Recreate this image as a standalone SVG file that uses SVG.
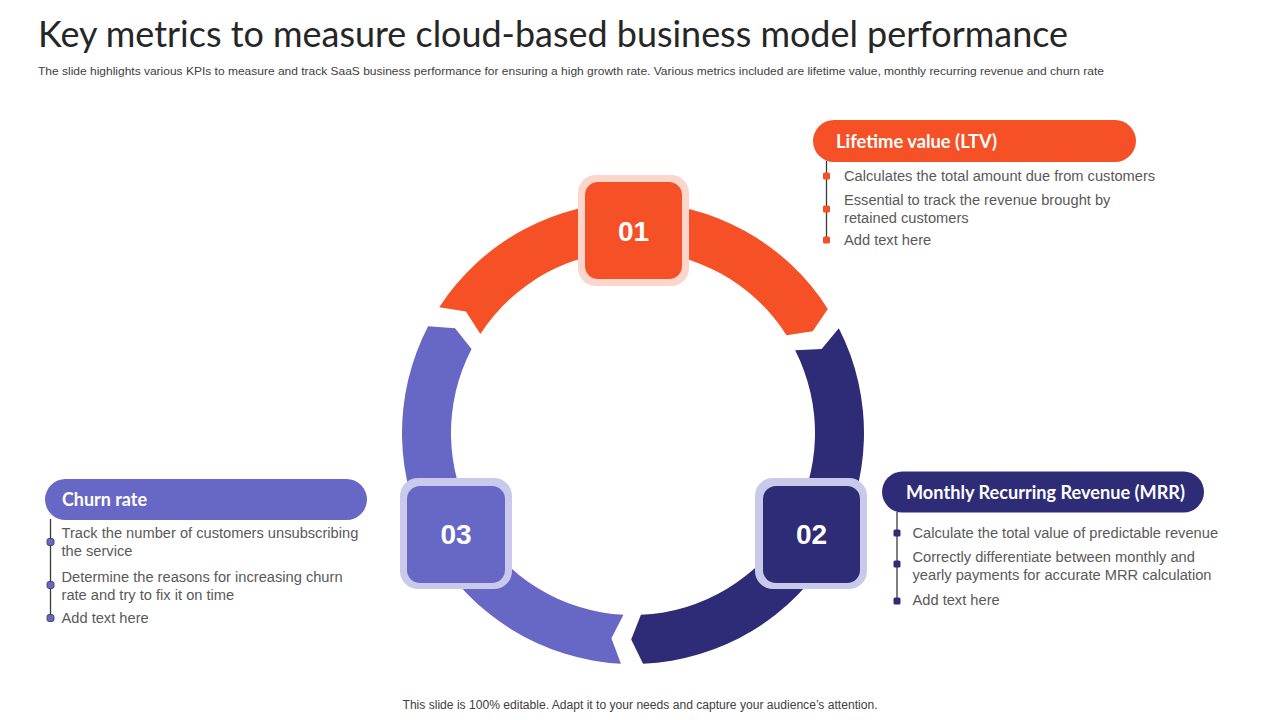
<svg xmlns="http://www.w3.org/2000/svg" width="1280" height="720" viewBox="0 0 1280 720">
<style>
.title{font-family:Lato,"Open Sans",sans-serif;font-size:36px;fill:#262626}
.sub{font-family:"Liberation Sans",Arial,sans-serif;font-size:10.7px;fill:#404040}
.foot{font-family:"Liberation Sans",Arial,sans-serif;font-size:12px;fill:#404040}
.body{font-family:"Liberation Sans",Arial,sans-serif;font-size:14.67px;fill:#595959}
.pill{font-family:Lato,"Open Sans",sans-serif;font-size:18px;font-weight:bold;fill:#ffffff}
.num{font-family:"Liberation Sans",Arial,sans-serif;font-size:28px;font-weight:bold;fill:#ffffff;text-anchor:middle}
.vline{stroke:#3a3a3a;stroke-width:1.3;fill:none}
.o{fill:#F55026}
.n{fill:#2E2B77}
.p{fill:#6768C5}
.ho{fill:#FCD6CC}
.hp{fill:#C9C9EC}
</style>
<rect width="1280" height="720" fill="#ffffff"/>
<text class="title" x="38" y="47" textLength="1030" lengthAdjust="spacingAndGlyphs">Key metrics to measure cloud-based business model performance</text>
<text class="sub" x="38" y="75" textLength="1066" lengthAdjust="spacingAndGlyphs">The slide highlights various KPIs to measure and track SaaS business performance for ensuring a high growth rate. Various metrics included are lifetime value, monthly recurring revenue and churn rate</text>

<g id="ring">
<path id="seg-orange" class="o" d="M439.27,307.19 A231,231 0 0 1 827.82,308.88 L812.73,331.32 L786.50,335.21 A182,182 0 0 0 480.36,333.88 L465.94,311.62 Z"/>
<path id="seg-navy" class="n" d="M838.82,328.13 A231,231 0 0 1 643.08,663.78 L631.20,639.49 L640.94,614.83 A182,182 0 0 0 795.16,350.37 L821.65,349.01 Z"/>
<path id="seg-purple" class="p" d="M620.91,663.68 A231,231 0 0 1 428.10,326.34 L455.07,328.19 L471.56,348.96 A182,182 0 0 0 623.47,614.75 L611.41,638.37 Z"/>
</g>

<g id="node-01">
<rect class="ho" x="578" y="175" width="111" height="111" rx="18"/>
<rect class="o" x="585" y="182" width="97" height="97" rx="13"/>
<text class="num" x="633.5" y="241">01</text>
</g>
<g id="node-02">
<rect class="hp" x="755" y="478" width="112" height="111" rx="18"/>
<rect class="n" x="763" y="486" width="97" height="97" rx="13"/>
<text class="num" x="811.5" y="544">02</text>
</g>
<g id="node-03">
<rect class="hp" x="400" y="478" width="112" height="111" rx="18"/>
<rect class="p" x="407" y="486" width="98" height="97" rx="13"/>
<text class="num" x="456" y="544">03</text>
</g>

<g id="ltv">
<rect class="o" x="813" y="120" width="323" height="42" rx="21"/>
<text class="pill" x="836" y="148" textLength="161" lengthAdjust="spacingAndGlyphs">Lifetime value (LTV)</text>
<line class="vline" x1="826.5" y1="161" x2="826.5" y2="240"/>
<rect class="o" x="823" y="172.5" width="7" height="7" rx="1.5"/>
<rect class="o" x="823" y="205.5" width="7" height="7" rx="1.5"/>
<rect class="o" x="823" y="236.5" width="7" height="7" rx="1.5"/>
<text class="body" x="844" y="181">Calculates the total amount due from customers</text>
<text class="body" x="844" y="205">Essential to track the revenue brought by</text>
<text class="body" x="844" y="223">retained customers</text>
<text class="body" x="844" y="245">Add text here</text>
</g>

<g id="mrr">
<rect class="n" x="882" y="471.5" width="322" height="41" rx="20.5"/>
<text class="pill" x="906" y="499" textLength="279" lengthAdjust="spacingAndGlyphs">Monthly Recurring Revenue (MRR)</text>
<line class="vline" x1="897" y1="512" x2="897" y2="601"/>
<rect class="n" x="893.5" y="529.5" width="7" height="7" rx="1.5"/>
<rect class="n" x="893.5" y="560.5" width="7" height="7" rx="1.5"/>
<rect class="n" x="893.5" y="597.5" width="7" height="7" rx="1.5"/>
<text class="body" x="912.5" y="538">Calculate the total value of predictable revenue</text>
<text class="body" x="912.5" y="562">Correctly differentiate between monthly and</text>
<text class="body" x="912.5" y="580">yearly payments for accurate MRR calculation</text>
<text class="body" x="912.5" y="605">Add text here</text>
</g>

<g id="churn">
<rect class="p" x="45" y="479" width="322" height="41" rx="20.5"/>
<text class="pill" x="62" y="506" textLength="85" lengthAdjust="spacingAndGlyphs">Churn rate</text>
<line class="vline" x1="50.5" y1="519" x2="50.5" y2="618"/>
<rect class="p" x="47" y="538.5" width="7" height="7" rx="2" stroke="#3a3a3a" stroke-width="0.8"/>
<rect class="p" x="47" y="581.5" width="7" height="7" rx="2" stroke="#3a3a3a" stroke-width="0.8"/>
<rect class="p" x="47" y="614.5" width="7" height="7" rx="2" stroke="#3a3a3a" stroke-width="0.8"/>
<text class="body" x="61.5" y="538">Track the number of customers unsubscribing</text>
<text class="body" x="61.5" y="556">the service</text>
<text class="body" x="61.5" y="582">Determine the reasons for increasing churn</text>
<text class="body" x="61.5" y="600">rate and try to fix it on time</text>
<text class="body" x="61.5" y="623">Add text here</text>
</g>

<text class="foot" x="640" y="709" text-anchor="middle" textLength="475" lengthAdjust="spacingAndGlyphs">This slide is 100% editable. Adapt it to your needs and capture your audience’s attention.</text>
</svg>
